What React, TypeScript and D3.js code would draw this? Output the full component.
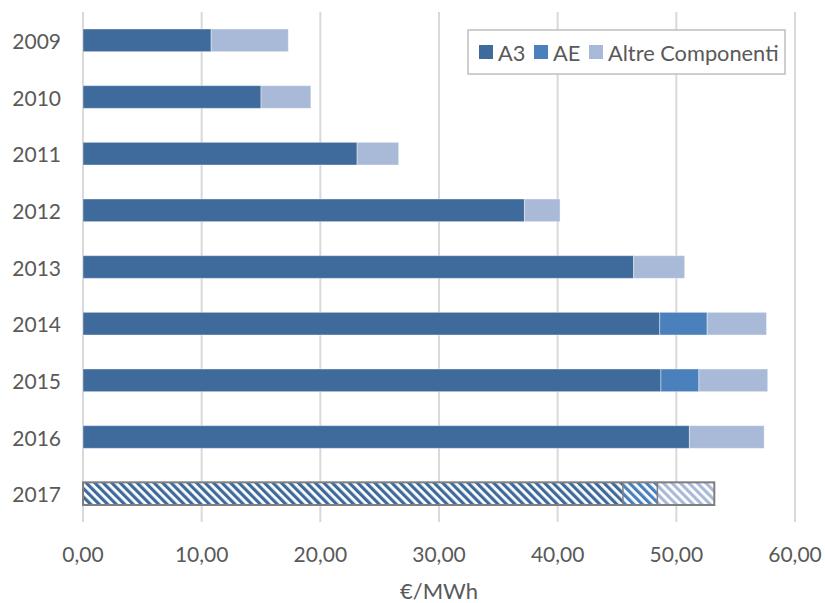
import React from "react";
import * as d3 from "d3";

const years = ["2009", "2010", "2011", "2012", "2013", "2014", "2015", "2016", "2017"];
const a3 = [10.8, 15.0, 23.1, 37.2, 46.4, 48.6, 48.7, 51.1, 45.5];
const ae = [0, 0, 0, 0, 0, 4.0, 3.2, 0, 2.9];
const altre = [6.5, 4.2, 3.5, 3.0, 4.3, 5.0, 5.8, 6.3, 4.8];
const seriesNames = ["A3", "AE", "Altre Componenti"];
const seriesColors = ["#3E6A9C", "#4A80BC", "#A9B9D8"];
const xTicks = [0, 10, 20, 30, 40, 50, 60];
const axisTitle = "€/MWh";

const W = 825;
const H = 603;
const FONT = "Lato, 'Open Sans', sans-serif";
const TXT = "#595959";

export default function App() {
  const x = d3.scaleLinear().domain([0, 60]).range([83, 795]);
  const y = d3.scaleBand().domain(years).range([12, 522]).paddingInner(0.6).paddingOuter(0.3);
  const rows = years.map((yr, i) => ({ yr, A3: a3[i], AE: ae[i], Altre: altre[i] }));
  const stack = d3.stack<any>().keys(["A3", "AE", "Altre"])(rows);
  const bh = y.bandwidth();
  const fmt = (v: number) => v.toFixed(2).replace(".", ",");
  const hatched = "2017";

  return (
    <svg width={W} height={H} style={{ position: "absolute", left: 0, top: 0, background: "#fff" }}>
      <defs>
        {seriesColors.map((c, k) => (
          <pattern key={k} id={`hatch${k}`} width={6} height={6} patternUnits="userSpaceOnUse" patternTransform="rotate(-45)">
            <rect width={6} height={6} fill="#fff" />
            <rect width={3.2} height={6} fill={c} />
          </pattern>
        ))}
      </defs>
      {xTicks.map((t) => (
        <line key={t} x1={x(t)} x2={x(t)} y1={12} y2={522} stroke="#D9D9D9" strokeWidth={2} />
      ))}
      {stack.map((s, k) =>
        s.map((d, i) => {
          const yr = years[i];
          const w = x(d[1]) - x(d[0]);
          if (w <= 0) return null;
          const isH = yr === hatched;
          return (
            <rect
              key={`${k}-${i}`}
              x={x(d[0])}
              y={y(yr)!}
              width={w}
              height={bh}
              fill={isH ? `url(#hatch${k})` : seriesColors[k]}
              stroke={isH ? "none" : "#ffffff"}
              strokeOpacity={0.4}
              strokeWidth={1}
            />
          );
        })
      )}
      {(() => {
        const i = years.indexOf(hatched);
        const total = a3[i] + ae[i] + altre[i];
        return (
          <g>
            <rect x={x(0)} y={y(hatched)!} width={x(total) - x(0)} height={bh} fill="none" stroke="#7F7F7F" strokeWidth={2} />
            <line x1={x(a3[i])} x2={x(a3[i])} y1={y(hatched)!} y2={y(hatched)! + bh} stroke="#7F7F7F" strokeWidth={1.5} />
            <line x1={x(a3[i] + ae[i])} x2={x(a3[i] + ae[i])} y1={y(hatched)!} y2={y(hatched)! + bh} stroke="#7F7F7F" strokeWidth={1.5} />
          </g>
        );
      })()}
      {years.map((yr) => (
        <text key={yr} x={61} y={y(yr)! + bh / 2} textAnchor="end" dominantBaseline="central" fontFamily={FONT} fontSize={21} fill={TXT}>
          {yr}
        </text>
      ))}
      {xTicks.map((t) => (
        <text key={t} x={x(t)} y={553} textAnchor="middle" dominantBaseline="central" fontFamily={FONT} fontSize={21} fill={TXT}>
          {fmt(t)}
        </text>
      ))}
      <text x={(x(0) + x(60)) / 2} y={590} textAnchor="middle" dominantBaseline="central" fontFamily={FONT} fontSize={22} fill={TXT}>
        {axisTitle}
      </text>
      <g>
        <rect x={468} y={30} width={317} height={44} fill="#fff" stroke="#BFBFBF" strokeWidth={1.5} />
        {seriesNames.map((n, k) => {
          const xs = [479, 534, 589][k];
          return (
            <g key={n}>
              <rect x={xs} y={45} width={14} height={14} fill={seriesColors[k]} />
              <text x={xs + 19} y={52} dominantBaseline="central" fontFamily={FONT} fontSize={21.8} fill={TXT}>
                {n}
              </text>
            </g>
          );
        })}
      </g>
    </svg>
  );
}
